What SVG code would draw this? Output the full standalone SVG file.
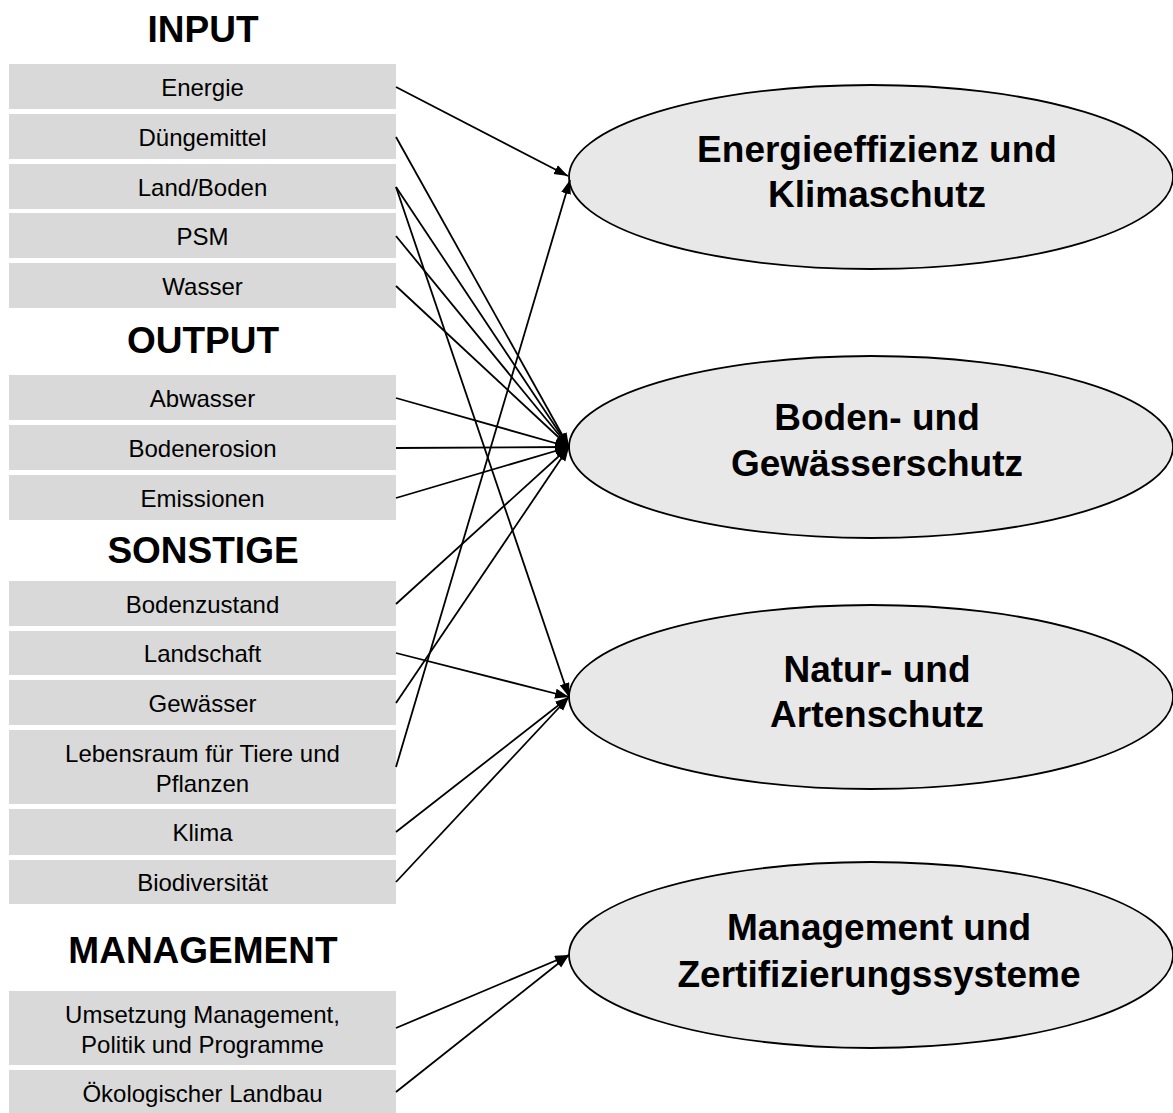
<svg xmlns="http://www.w3.org/2000/svg" width="1173" height="1113" viewBox="0 0 1173 1113">
  <style>
    .box { fill: #d9d9d9; }
    .lbl { font-family: "Liberation Sans", Arial, sans-serif; font-size: 24px; fill: #000; text-anchor: middle; }
    .head { font-family: "Liberation Sans", Arial, sans-serif; font-size: 37px; font-weight: bold; fill: #000; text-anchor: middle; }
    .oval { fill: #e8e8e8; stroke: #000; stroke-width: 1.8; }
    .otxt { font-family: "Liberation Sans", Arial, sans-serif; font-size: 37px; font-weight: bold; fill: #000; text-anchor: middle; }
    .link { stroke: #000; stroke-width: 1.8; fill: none; marker-end: url(#arrow); }
  </style>
  <defs>
    <marker id="arrow" markerUnits="userSpaceOnUse" markerWidth="15" markerHeight="11" refX="14" refY="5" orient="auto">
      <path d="M0,0 L14,5 L0,10 Z" fill="#000"/>
    </marker>
  </defs>
  <rect width="1173" height="1113" fill="#fff"/>

  <!-- section headings -->
  <text class="head" x="203" y="42">INPUT</text>
  <text class="head" x="203" y="353">OUTPUT</text>
  <text class="head" x="203" y="563">SONSTIGE</text>
  <text class="head" x="203" y="963">MANAGEMENT</text>

  <!-- source boxes -->
  <g id="energie"><rect class="box" x="9" y="64" width="387" height="45"/><text class="lbl" x="202.5" y="96">Energie</text></g>
  <g id="duengemittel"><rect class="box" x="9" y="114" width="387" height="45"/><text class="lbl" x="202.5" y="146">Düngemittel</text></g>
  <g id="land-boden"><rect class="box" x="9" y="164" width="387" height="45"/><text class="lbl" x="202.5" y="196">Land/Boden</text></g>
  <g id="psm"><rect class="box" x="9" y="213" width="387" height="45"/><text class="lbl" x="202.5" y="245">PSM</text></g>
  <g id="wasser"><rect class="box" x="9" y="263" width="387" height="45"/><text class="lbl" x="202.5" y="295">Wasser</text></g>

  <g id="abwasser"><rect class="box" x="9" y="375" width="387" height="45"/><text class="lbl" x="202.5" y="407">Abwasser</text></g>
  <g id="bodenerosion"><rect class="box" x="9" y="425" width="387" height="45"/><text class="lbl" x="202.5" y="457">Bodenerosion</text></g>
  <g id="emissionen"><rect class="box" x="9" y="475" width="387" height="45"/><text class="lbl" x="202.5" y="507">Emissionen</text></g>

  <g id="bodenzustand"><rect class="box" x="9" y="581" width="387" height="45"/><text class="lbl" x="202.5" y="613">Bodenzustand</text></g>
  <g id="landschaft"><rect class="box" x="9" y="631" width="387" height="44"/><text class="lbl" x="202.5" y="662">Landschaft</text></g>
  <g id="gewaesser"><rect class="box" x="9" y="680" width="387" height="45"/><text class="lbl" x="202.5" y="712">Gewässer</text></g>
  <g id="lebensraum"><rect class="box" x="9" y="730" width="387" height="74"/><text class="lbl" x="202.5" y="762">Lebensraum für Tiere und</text><text class="lbl" x="202.5" y="792">Pflanzen</text></g>
  <g id="klima"><rect class="box" x="9" y="809" width="387" height="46"/><text class="lbl" x="202.5" y="841">Klima</text></g>
  <g id="biodiversitaet"><rect class="box" x="9" y="860" width="387" height="44"/><text class="lbl" x="202.5" y="891">Biodiversität</text></g>

  <g id="umsetzung"><rect class="box" x="9" y="991" width="387" height="74"/><text class="lbl" x="202.5" y="1023">Umsetzung Management,</text><text class="lbl" x="202.5" y="1053">Politik und Programme</text></g>
  <g id="oekolandbau"><rect class="box" x="9" y="1070" width="387" height="45"/><text class="lbl" x="202.5" y="1102">Ökologischer Landbau</text></g>

  <!-- target ellipses -->
  <g id="klimaschutz"><ellipse class="oval" cx="871" cy="177" rx="302" ry="92"/><text class="otxt" x="877" y="162">Energieeffizienz und</text><text class="otxt" x="877" y="207">Klimaschutz</text></g>
  <g id="bodenschutz"><ellipse class="oval" cx="871" cy="447" rx="302" ry="91"/><text class="otxt" x="877" y="430">Boden- und</text><text class="otxt" x="877" y="476">Gewässerschutz</text></g>
  <g id="artenschutz"><ellipse class="oval" cx="871" cy="697" rx="302" ry="92"/><text class="otxt" x="877" y="682">Natur- und</text><text class="otxt" x="877" y="727">Artenschutz</text></g>
  <g id="zertifizierung"><ellipse class="oval" cx="871" cy="955" rx="302" ry="93"/><text class="otxt" x="879" y="940">Management und</text><text class="otxt" x="879" y="987">Zertifizierungssysteme</text></g>

  <!-- connectors -->
  <g id="connectors">
    <line class="link" x1="396" y1="87" x2="568" y2="176"/>
    <line class="link" x1="396" y1="767" x2="570" y2="180"/>

    <line class="link" x1="396" y1="137" x2="569" y2="447"/>
    <line class="link" x1="396" y1="187" x2="569" y2="447"/>
    <line class="link" x1="396" y1="236" x2="569" y2="447"/>
    <line class="link" x1="396" y1="286" x2="569" y2="447"/>
    <line class="link" x1="396" y1="398" x2="569" y2="447"/>
    <line class="link" x1="396" y1="448" x2="569" y2="447"/>
    <line class="link" x1="396" y1="498" x2="569" y2="447"/>
    <line class="link" x1="396" y1="604" x2="569" y2="447"/>
    <line class="link" x1="396" y1="703" x2="569" y2="447"/>

    <line class="link" x1="396" y1="187" x2="569" y2="697"/>
    <line class="link" x1="396" y1="653" x2="569" y2="697"/>
    <line class="link" x1="396" y1="832" x2="569" y2="697"/>
    <line class="link" x1="396" y1="882" x2="569" y2="697"/>

    <line class="link" x1="396" y1="1028" x2="569" y2="955"/>
    <line class="link" x1="396" y1="1092" x2="569" y2="955"/>
  </g>
</svg>
